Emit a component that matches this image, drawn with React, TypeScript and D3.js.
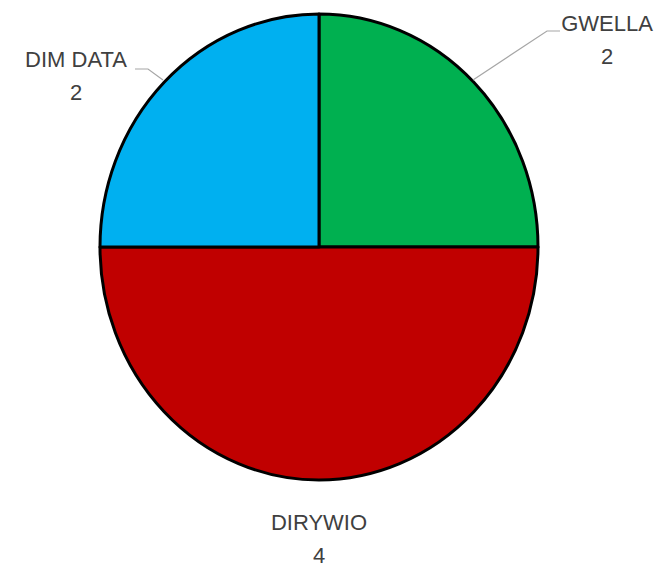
import React, { useEffect, useRef } from 'react';
import * as d3 from 'd3';

const categories = ['GWELLA', 'DIRYWIO', 'DIM DATA'];
const values = [2, 4, 2];
const colors = ['#00b050', '#c00000', '#00b0f0'];

const App = () => {
  const svgRef = useRef<SVGSVGElement>(null);
  const width = 661;
  const height = 571;
  const cx = 319;
  const cy = 247;
  const rx = 219;
  const ry = 233;

  useEffect(() => {
    const svg = d3.select(svgRef.current);
    svg.selectAll('*').remove();

    const pie = d3.pie<number>().sort(null).value(d => d);
    const arcs = pie(values);
    const arc = d3.arc<d3.PieArcDatum<number>>().innerRadius(0).outerRadius(ry);

    const g = svg.append('g')
      .attr('transform', `translate(${cx},${cy}) scale(${rx / ry},1)`);

    g.selectAll('path')
      .data(arcs)
      .join('path')
      .attr('d', arc)
      .attr('fill', (_, i) => colors[i])
      .attr('stroke', '#000')
      .attr('stroke-width', 3)
      .attr('stroke-linejoin', 'round')
      .attr('vector-effect', 'non-scaling-stroke');

    // label placement (text anchor, baseline of first line) and leader lines
    const labelPos = [
      { x: 607, y: 31, line: [[560, 31], [547, 31], [473, 80]] },
      { x: 319, y: 530, line: null },
      { x: 76, y: 67, line: [[135, 69], [148, 69], [163, 80]] },
    ];

    const labels = svg.append('g')
      .attr('font-family', 'Liberation Sans, Arial, sans-serif')
      .attr('font-size', 22)
      .attr('fill', '#404040')
      .attr('text-anchor', 'middle');

    arcs.forEach((a, i) => {
      const p = labelPos[i];
      if (p.line) {
        svg.append('path')
          .attr('d', d3.line()(p.line as [number, number][]))
          .attr('fill', 'none')
          .attr('stroke', '#a6a6a6')
          .attr('stroke-width', 1.2);
      }
      const t = labels.append('text').attr('x', p.x).attr('y', p.y);
      t.append('tspan').attr('x', p.x).text(categories[i]);
      t.append('tspan').attr('x', p.x).attr('dy', 33).text(String(a.data));
    });
  }, []);

  return (
    <svg
      ref={svgRef}
      width={width}
      height={height}
      style={{ position: 'absolute', left: 0, top: 0, background: '#fff' }}
    />
  );
};

export default App;
